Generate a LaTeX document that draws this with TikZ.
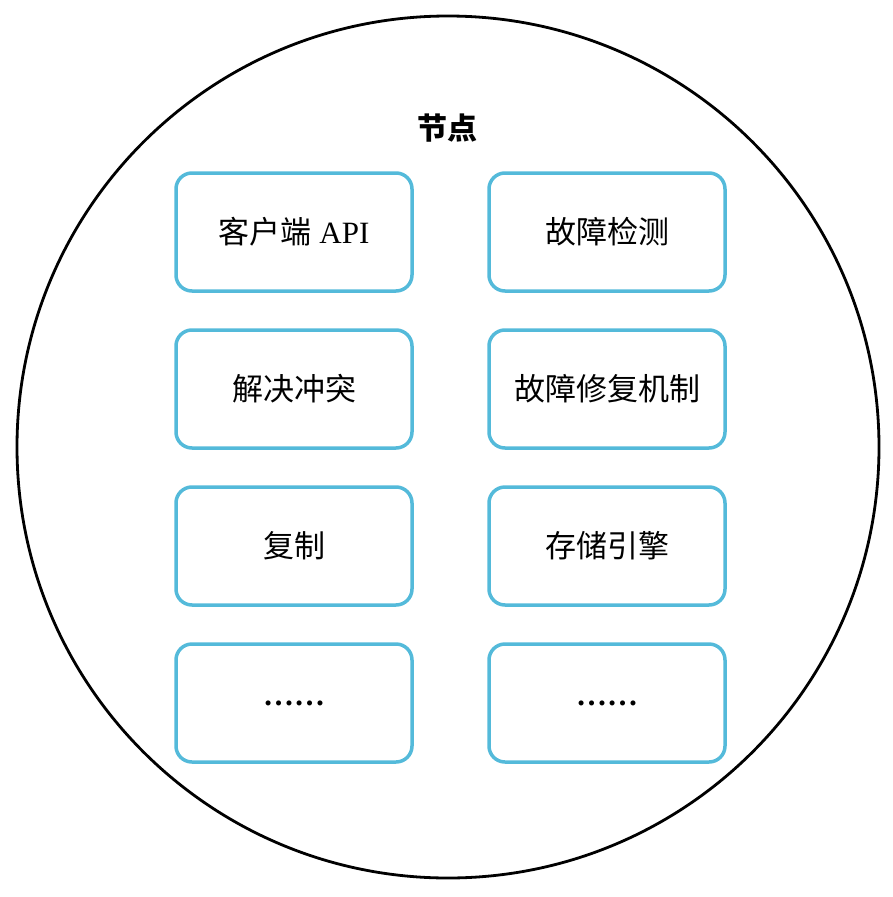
\documentclass[tikz,border=0pt]{standalone}
\usepackage{fontspec}
\setmainfont{Liberation Serif}
\newfontfamily\cjk{Noto Sans CJK SC}
\usetikzlibrary{positioning}
\definecolor{boxblue}{RGB}{84,186,218}
\begin{document}
\begin{tikzpicture}[x=1pt,y=-1pt]
    \tikzstyle{module} = [draw=boxblue, line width=3.5pt, rounded corners=16pt, minimum width=236pt, minimum height=118pt, outer sep=0pt, font=\fontsize{31}{34}\selectfont]
    \tikzstyle{title} = [font=\cjk\bfseries\fontsize{30}{34}\selectfont]
    \useasboundingbox (0,0) rectangle (893,897);
    \node[draw, circle, line width=2.8pt, minimum size=862pt, outer sep=0pt] (node) at (448,447) {};
    \node[title] (title) at (447,128) {节点};
    % left column
    \node[module] (api) at (294,232) {{\cjk 客户端} API};
    \node[module, below=39pt of api] (resolve) {\cjk 解决冲突};
    \node[module, below=39pt of resolve] (repl) {\cjk 复制};
    \node[module, below=39pt of repl] (more1) {\textbf{……}};
    % right column
    \node[module, right=77pt of api] (detect) {\cjk 故障检测};
    \node[module, below=39pt of detect] (repair) {\cjk 故障修复机制};
    \node[module, below=39pt of repair] (storage) {\cjk 存储引擎};
    \node[module, below=39pt of storage] (more2) {\textbf{……}};
\end{tikzpicture}
\end{document}
